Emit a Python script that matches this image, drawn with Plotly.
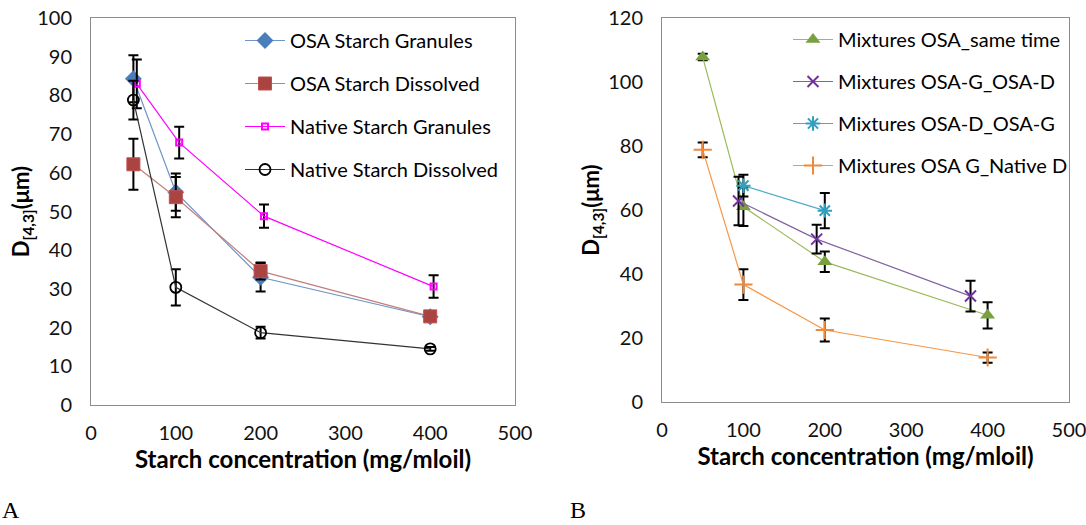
import plotly.graph_objects as go

# ---------- Data: panel A ----------
conc_a = [50, 100, 200, 400]
conc_native_gran = [54, 104, 204, 404]

osa_gran = [84.3, 55.0, 33.0, 22.8]
osa_gran_err = [6.1, 4.8, 3.7, 0.5]
osa_diss = [62.2, 53.7, 34.6, 22.9]
osa_diss_err = [6.6, 5.2, 2.2, 0.5]
nat_gran = [83.0, 67.8, 48.8, 30.6]
nat_gran_err = [6.3, 4.1, 3.0, 2.9]
nat_diss = [78.8, 30.4, 18.7, 14.5]
nat_diss_err = [5.0, 4.7, 1.5, 0.5]

# ---------- Data: panel B ----------
conc_same = [50, 100, 200, 400]
mix_same = [107.8, 61.0, 43.8, 27.1]
mix_same_err = [1.0, 6.0, 3.2, 4.1]
conc_gd = [94, 190, 379]
mix_gd = [62.8, 50.9, 33.1]
mix_gd_err = [7.6, 4.5, 4.8]
conc_dg = [100, 200]
mix_dg = [67.6, 59.8]
mix_dg_err = [3.4, 5.5]
conc_gn = [50, 100, 200, 400]
mix_gn = [78.8, 36.7, 22.5, 13.9]
mix_gn_err = [2.3, 4.8, 3.6, 1.6]

FONT = "Lato"
fig = go.Figure()


def add(x, y, err, name, color, linecolor, symbol, size, xa, ya, legend, mline=None, mcolor=None):
    marker = dict(symbol=symbol, size=size, color=mcolor or color)
    if mline:
        marker["line"] = mline
    fig.add_trace(go.Scatter(
        x=x, y=y, name=name, mode="lines+markers",
        line=dict(color=linecolor, width=1.2),
        marker=marker,
        error_y=dict(type="data", array=err, color="black", thickness=2, width=5),
        xaxis=xa, yaxis=ya, legend=legend, legendgroup=name,
    ))


add(conc_a, osa_gran, osa_gran_err, "OSA Starch Granules", "#4A7EBB", "#6F94C8",
    "diamond", 13, "x", "y", "legend")
add(conc_a, osa_diss, osa_diss_err, "OSA Starch Dissolved", "#A94442", "#C0807E",
    "square", 13, "x", "y", "legend", mline=dict(color="#C0504D", width=1))
add(conc_native_gran, nat_gran, nat_gran_err, "Native Starch Granules", "#FF00FF", "#FF00FF",
    "square-open", 6, "x", "y", "legend", mline=dict(color="#FF00FF", width=2))
add(conc_a, nat_diss, nat_diss_err, "Native Starch Dissolved", "#000000", "#333333",
    "circle-open", 11, "x", "y", "legend", mline=dict(color="black", width=1.8))

add(conc_same, mix_same, mix_same_err, "Mixtures OSA_same time", "#77A03F", "#9BBB59",
    "triangle-up", 13, "x2", "y2", "legend2")
add(conc_gd, mix_gd, mix_gd_err, "Mixtures OSA-G_OSA-D", "#7030A0", "#8064A2",
    "x-thin-open", 11, "x2", "y2", "legend2", mline=dict(color="#7030A0", width=2))
add(conc_dg, mix_dg, mix_dg_err, "Mixtures OSA-D_OSA-G", "#31A0BF", "#4BACC6",
    "asterisk-open", 12, "x2", "y2", "legend2", mline=dict(color="#31A0BF", width=2))
add(conc_gn, mix_gn, mix_gn_err, "Mixtures OSA G_Native D", "#F0883A", "#F79646",
    "cross-thin-open", 13, "x2", "y2", "legend2", mline=dict(color="#F0883A", width=2))

axis_common = dict(showgrid=False, zeroline=False, showline=True, mirror=True,
                   linecolor="#8C8C8C", linewidth=1, ticks="", automargin=False,
                   tickfont=dict(family=FONT, size=20, color="#111"))
xt = dict(tickvals=[0, 100, 200, 300, 400, 500], range=[0, 500], ticklabelstandoff=10,
          ticklabeloverflow="allow",
          title=dict(text="<b>Starch concentration (mg/mloil)</b>",
                     font=dict(family=FONT, size=24, color="black"), standoff=6))
ytitle = "<b>D<sub>[4,3]</sub>(μm)</b>"

fig.update_layout(
    width=1086, height=525, margin=dict(l=0, r=0, t=0, b=0),
    paper_bgcolor="white", plot_bgcolor="white",
    xaxis=dict(domain=[91 / 1086, 515 / 1086], anchor="y", **xt, **axis_common),
    yaxis=dict(domain=[1 - 405 / 525, 1 - 18 / 525], anchor="x", range=[0, 100],
               tickvals=list(range(0, 101, 10)), ticklabelstandoff=14,
               title=dict(text=ytitle, font=dict(family=FONT, size=22, color="black"), standoff=1),
               **axis_common),
    xaxis2=dict(domain=[662 / 1086, 1069 / 1086], anchor="y2", **xt, **axis_common),
    yaxis2=dict(domain=[1 - 402 / 525, 1 - 18 / 525], anchor="x2", range=[0, 120],
                tickvals=list(range(0, 121, 20)), ticklabelstandoff=14,
                title=dict(text=ytitle, font=dict(family=FONT, size=22, color="black"), standoff=2),
                **axis_common),
    legend=dict(x=240 / 1086, y=1 - 21 / 525, xanchor="left", yanchor="top",
                font=dict(family=FONT, size=20, color="black"), bgcolor="rgba(0,0,0,0)",
                itemwidth=40, tracegroupgap=14, itemsizing="trace"),
    legend2=dict(x=788 / 1086, y=1 - 20 / 525, xanchor="left", yanchor="top",
                 font=dict(family=FONT, size=20, color="black"), bgcolor="rgba(0,0,0,0)",
                 itemwidth=40, tracegroupgap=13, itemsizing="trace"),
    showlegend=True,
    annotations=[
        dict(text="A", x=0, y=0, xref="paper", yref="paper",
             xanchor="left", yanchor="bottom", showarrow=False,
             font=dict(family="Liberation Serif", size=24, color="black")),
        dict(text="B", x=568 / 1086, y=0, xref="paper", yref="paper",
             xanchor="left", yanchor="bottom", showarrow=False,
             font=dict(family="Liberation Serif", size=24, color="black")),
    ],
)

fig.write_html("out.html", config={"displayModeBar": False},
               post_script="document.body.style.margin='0';")
